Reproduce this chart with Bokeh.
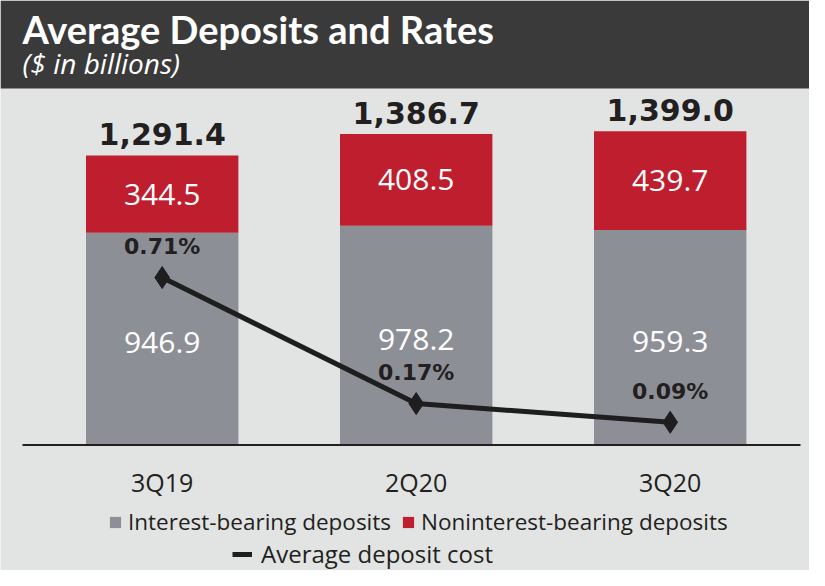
from bokeh.plotting import figure
from bokeh.models import Range1d, Legend, LegendItem, ColumnDataSource, Label, BoxAnnotation
from bokeh.core.properties import value
from bokeh.embed import file_html
from bokeh.resources import INLINE

# ---- data ----
quarters = ["3Q19", "2Q20", "3Q20"]
interest_bearing = [946.9, 978.2, 959.3]
noninterest_bearing = [344.5, 408.5, 439.7]
totals = [1291.4, 1386.7, 1399.0]
deposit_cost = [0.71, 0.17, 0.09]

title_text = "Average Deposits and Rates"
subtitle_text = "($ in billions)"

# ---- colours ----
HEADER_BG = "#3a3a3a"
BG = "#e2e4e3"
GRAY = "#8d8f96"
RED = "#be1e2d"
DARK = "#231f20"

W, H = 809, 570
HEADER_BOTTOM = 1590   # value (bar scale) where the dark header band ends

xs = list(range(len(quarters)))
src = ColumnDataSource(dict(
    x=xs,
    base=[0] * len(xs),
    ib=interest_bearing,
    ni=noninterest_bearing,
    total=totals,
    ib_mid=[v / 2 for v in interest_bearing],
    ni_mid=[a + b / 2 for a, b in zip(interest_bearing, noninterest_bearing)],
    ib_lbl=[f"{v:.1f}" for v in interest_bearing],
    ni_lbl=[f"{v:.1f}" for v in noninterest_bearing],
    tot_lbl=[f"{v:,.1f}" for v in totals],
    cost=deposit_cost,
    cost_lbl=[f"{v:.2f}%" for v in deposit_cost],
    cat=quarters,
))

p = figure(width=W, height=H, x_range=Range1d(-0.6366, 2.5484),
           y_range=Range1d(-559.8, 1982.6), x_axis_type=None, y_axis_type=None,
           output_backend="svg", toolbar_location=None, title=None,
           min_border=0, min_border_left=0, min_border_right=0,
           min_border_top=0, min_border_bottom=0)
p.background_fill_color = BG
p.border_fill_color = BG
p.outline_line_color = None
p.extra_y_ranges = {"rate": Range1d(-0.545, 1.897)}

# header band
p.add_layout(BoxAnnotation(bottom=HEADER_BOTTOM, fill_color=HEADER_BG,
                           fill_alpha=1.0, line_color=None, level="underlay"))
p.add_layout(Label(x=22, y=H - 28, x_units="screen", y_units="screen",
                   text=title_text, text_font="Lato", text_font_style="bold",
                   text_font_size="38px", text_color="white",
                   text_baseline="alphabetic"))
p.add_layout(Label(x=22, y=H - 62, x_units="screen", y_units="screen",
                   text=subtitle_text, text_font="Open Sans",
                   text_font_style="italic", text_font_size="28px",
                   text_color="white", text_baseline="alphabetic"))

gray_r = p.vbar(x="x", bottom="base", top="ib", width=0.6, source=src,
                fill_color=GRAY, line_color=None)
red_r = p.vbar(x="x", bottom="ib", top="total", width=0.6, source=src,
               fill_color=RED, line_color=None)

# baseline (category axis line)
p.segment(x0=[-0.55], x1=[2.513], y0=[0], y1=[0], line_color=DARK, line_width=2)

line_r = p.line(x="x", y="cost", source=src, y_range_name="rate",
                line_color="#1e1e1e", line_width=5)
p.scatter(x="x", y="cost", source=src, y_range_name="rate", marker="diamond",
          size=22, fill_color="#1e1e1e", line_color="#1e1e1e")

# bar value labels
p.text(x="x", y="ib_mid", text="ib_lbl", source=src, text_align="center",
       text_baseline="middle", text_color="white", text_font=value("Open Sans"),
       text_font_size="30px", y_offset=4)
p.text(x="x", y="ni_mid", text="ni_lbl", source=src, text_align="center",
       text_baseline="middle", text_color="white", text_font=value("Open Sans"),
       text_font_size="30px")
p.text(x="x", y="total", text="tot_lbl", source=src, text_align="center",
       text_baseline="bottom", text_color=DARK, text_font=value("DejaVu Sans"),
       text_font_style="bold", text_font_size="30px", y_offset=-10)
p.text(x="x", y="cost", text="cost_lbl", source=src, y_range_name="rate",
       text_align="center", text_baseline="middle", text_color=DARK,
       text_font=value("DejaVu Sans"), text_font_style="bold",
       text_font_size="22px", y_offset=-31)
# category labels
p.text(x="x", y="base", text="cat", source=src, text_align="center",
       text_baseline="middle", text_color=DARK, text_font=value("Open Sans"),
       text_font_size="25px", y_offset=37)

leg_common = dict(orientation="horizontal", background_fill_alpha=0,
                  border_line_alpha=0, padding=0, margin=0,
                  label_text_font="Open Sans", label_text_color=DARK,
                  spacing=10, label_height=26, glyph_height=14)
leg1 = Legend(items=[LegendItem(label="Interest-bearing deposits", renderers=[gray_r]),
                     LegendItem(label="Noninterest-bearing deposits", renderers=[red_r])],
              location=(108, 33), glyph_width=14, label_standoff=6,
              label_text_font_size="22.5px", **leg_common)
leg2 = Legend(items=[LegendItem(label="Average deposit cost", renderers=[line_r])],
              location=(232, 0), glyph_width=20, label_standoff=9,
              label_text_font_size="24px", **leg_common)
p.add_layout(leg1)
p.add_layout(leg2)

with open("out.html", "w") as f:
    f.write(file_html(p, INLINE))
